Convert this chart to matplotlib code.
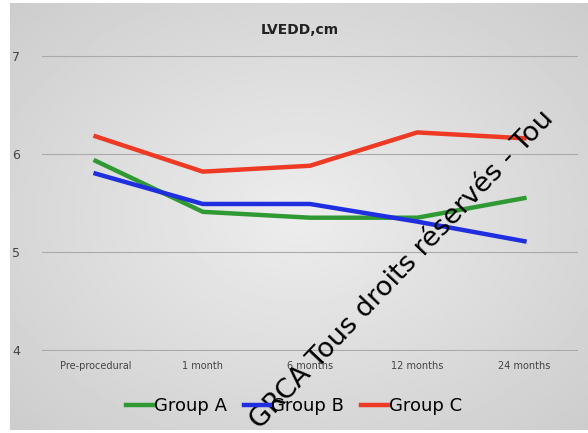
import numpy as np
import matplotlib.pyplot as plt

# data
timepoints = ['Pre-procedural', '1 month', '6 months', '12 months', '24 months']
group_a = [5.93, 5.41, 5.35, 5.35, 5.55]
group_b = [5.80, 5.49, 5.49, 5.31, 5.11]
group_c = [6.18, 5.82, 5.88, 6.22, 6.16]

fig = plt.figure(figsize=(5.88, 4.33), dpi=100)
fig.patch.set_facecolor('white')

# gray radial gradient panel behind the chart
bg = fig.add_axes([10 / 588, 3 / 433, 578 / 588, 427 / 433])
yy, xx = np.mgrid[-1:1:200j, -1:1:300j]
r = np.sqrt(xx**2 + yy**2)
bg.imshow(0.93 - 0.09 * r, cmap='gray', vmin=0, vmax=1, aspect='auto',
          extent=[0, 1, 0, 1])
bg.axis('off')

ax = fig.add_axes([42 / 588, 1 - 351 / 433, 536 / 588, 296 / 433])
ax.set_facecolor('none')
x = np.arange(len(timepoints))
ax.plot(x, group_a, color='#2f9a34', linewidth=3.2, label='Group A')
ax.plot(x, group_b, color='#1f2fe0', linewidth=3.2, label='Group B')
ax.plot(x, group_c, color='#ee3a24', linewidth=3.2, label='Group C')

ax.set_ylim(3.99, 7.01)
ax.set_xlim(-0.5, len(timepoints) - 0.5)
ax.set_yticks([4, 5, 6, 7])
ax.set_xticks(x)
ax.set_xticklabels(timepoints, fontsize=7, color='#444444')
ax.tick_params(axis='y', labelsize=9, colors='#444444', length=0, pad=16)
ax.tick_params(axis='x', length=0, pad=7)
ax.grid(axis='y', color='#aaaaaa', linewidth=0.8)
for s in ax.spines.values():
    s.set_visible(False)

fig.text(0.51, 0.93, 'LVEDD,cm', ha='center', va='center', fontsize=10,
         fontweight='bold', color='#222222')
fig.legend(loc='center', bbox_to_anchor=(0.5, 0.062), ncol=3, frameon=False,
           fontsize=13, handlelength=1.5, handletextpad=0.05, columnspacing=0.9)

# watermark
fig.text(260 / 588, 1 - 430 / 433, 'GRCA Tous droits réservés - Tou',
         rotation=46.5, rotation_mode='anchor', ha='left', va='baseline',
         fontsize=19.5, color='black')

plt.savefig('out.png', dpi=100)
